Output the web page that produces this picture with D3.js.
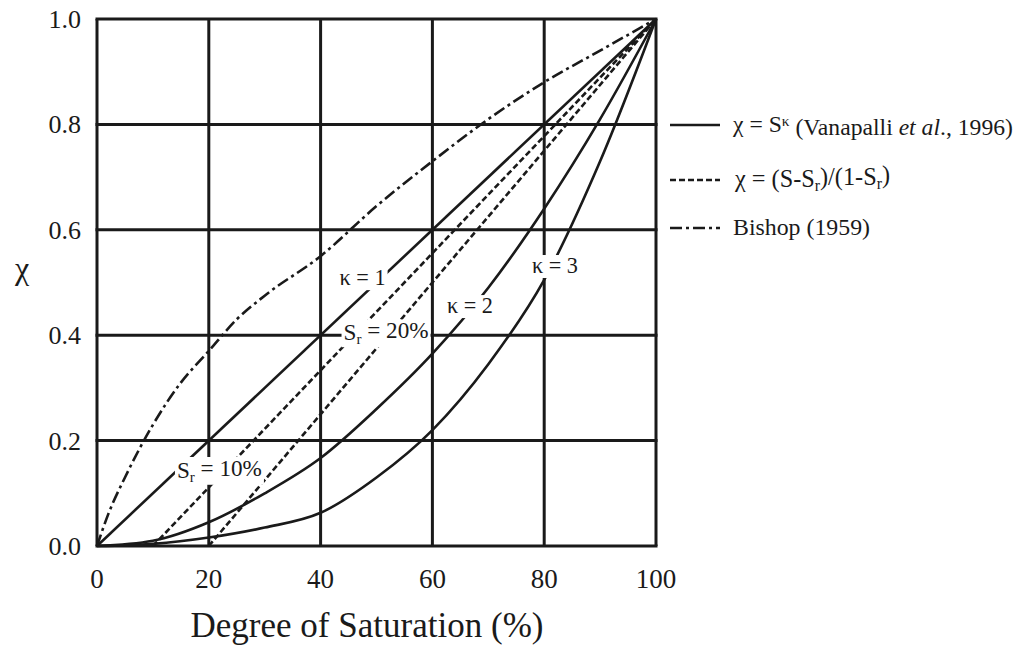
<!DOCTYPE html>
<html>
<head>
<meta charset="utf-8">
<script src="https://cdn.jsdelivr.net/npm/d3@7"></script>
<style>
  body { margin: 0; background: #fff; }
</style>
</head>
<body>
<svg id="chart" width="1021" height="646"></svg>
<script>
// values (S in %, chi)
var xTicks = [0, 20, 40, 60, 80, 100];
var yTicks = [0, 0.2, 0.4, 0.6, 0.8, 1.0];

var kappa1 = [[0, 0], [100, 1]];
var kappa2 = [[0, 0], [10, 0.01], [20, 0.045], [30, 0.1], [40, 0.167], [50, 0.26], [60, 0.365], [70, 0.49], [80, 0.64], [90, 0.81], [100, 1]];
var kappa3 = [[0, 0], [10, 0.004], [20, 0.016], [30, 0.035], [40, 0.063], [50, 0.13], [60, 0.22], [70, 0.345], [80, 0.505], [90, 0.73], [100, 1]];
var sr10 = [[10, 0], [100, 1]];
var sr20 = [[20, 0], [100, 1]];
var bishop = [[0, 0], [2, 0.06], [5, 0.13], [10, 0.23], [15, 0.31], [20, 0.37], [25, 0.43], [30, 0.475], [40, 0.55], [50, 0.645], [60, 0.73], [70, 0.81], [80, 0.88], [90, 0.94], [100, 1]];

var legendItems = ["kappa", "sr", "bishop"];

var FONT = "'Liberation Serif'";
var INK = "#1a1a1a";

var svg = d3.select("#chart");
var x = d3.scaleLinear().domain([0, 100]).range([97, 656]);
var y = d3.scaleLinear().domain([0, 1]).range([546, 19]);

var line = d3.line()
    .x(d => x(d[0]))
    .y(d => y(d[1]))
    .curve(d3.curveMonotoneX);

function txt(parent) {
    return parent.append("text").style("font-family", FONT).style("fill", INK);
}

// scale a text's font so its width matches what the picture shows
function fit(sel, w) {
    var fs = parseFloat(sel.style("font-size"));
    var cur = sel.node().getComputedTextLength();
    if (cur > 0) sel.style("font-size", (fs * w / cur).toFixed(2) + "px");
    return sel;
}

// grid
svg.append("g").selectAll("line")
    .data(xTicks).enter().append("line")
    .attr("x1", d => x(d)).attr("x2", d => x(d))
    .attr("y1", y(0)).attr("y2", y(1))
    .style("stroke", INK).style("stroke-width", 3);
svg.append("g").selectAll("line")
    .data(yTicks).enter().append("line")
    .attr("x1", x(0) - 1.5).attr("x2", x(100) + 1.5)
    .attr("y1", d => y(d)).attr("y2", d => y(d))
    .style("stroke", INK).style("stroke-width", 3);

// curves
var series = [
    {data: kappa1, dash: null},
    {data: kappa2, dash: null},
    {data: kappa3, dash: null},
    {data: sr10, dash: "6,3"},
    {data: sr20, dash: "6,3"},
    {data: bishop, dash: "12,4,3,4"}
];
svg.append("g").selectAll("path")
    .data(series).enter().append("path")
    .attr("d", d => line(d.data))
    .style("fill", "none")
    .style("stroke", INK)
    .style("stroke-width", 2.6)
    .style("stroke-dasharray", d => d.dash);

// in-plot labels with white backing
var labels = [
    {t: "κ = 1", S: 43.4, c: 0.495, w: 46},
    {t: "κ = 2", S: 62.6, c: 0.442, w: 46},
    {t: "κ = 3", S: 77.8, c: 0.518, w: 46},
    {t: "S", sub: "r", rest: " = 20%", S: 44.1, c: 0.39, w: 85},
    {t: "S", sub: "r", rest: " = 10%", S: 14.3, c: 0.129, w: 85}
];
labels.forEach(function(l) {
    var g = svg.append("g");
    var t = txt(g)
        .attr("x", x(l.S)).attr("y", y(l.c))
        .style("font-size", "22px");
    t.append("tspan").text(l.t);
    if (l.sub) {
        t.append("tspan").text(l.sub).attr("dy", "0.25em").style("font-size", "0.65em");
        t.append("tspan").text(l.rest).attr("dy", "-0.25em");
    }
    fit(t, l.w);
    var bb = t.node().getBBox();
    g.insert("rect", "text")
        .attr("x", bb.x - 2).attr("y", bb.y + 2)
        .attr("width", bb.width + 4).attr("height", bb.height - 2)
        .style("fill", "#fff");
});

// tick labels
var gy = svg.append("g");
yTicks.forEach(function(d) {
    txt(gy).attr("x", 81).attr("y", y(d) + 9)
        .attr("text-anchor", "end")
        .style("font-size", "26px")
        .text(d.toFixed(1));
});
var gx = svg.append("g");
xTicks.forEach(function(d) {
    txt(gx).attr("x", x(d)).attr("y", 588)
        .attr("text-anchor", "middle")
        .style("font-size", "27px")
        .text(d);
});

fit(txt(svg).attr("x", 367).attr("y", 637)
    .attr("text-anchor", "middle").style("font-size", "30px")
    .text("Degree of Saturation (%)"), 353);
txt(svg).attr("x", 22).attr("y", 279)
    .attr("text-anchor", "middle").style("font-size", "32px")
    .text("χ");

// legend
var leg = svg.append("g");
var legDash = {kappa: null, sr: "6,3", bishop: "12,4,3,4"};
var legY = {kappa: 125, sr: 180, bishop: 228};
legendItems.forEach(function(k) {
    leg.append("line")
        .attr("x1", 670).attr("x2", 720)
        .attr("y1", legY[k]).attr("y2", legY[k])
        .style("stroke", INK).style("stroke-width", 2.6)
        .style("stroke-dasharray", legDash[k]);
});
var t1 = txt(leg).attr("x", 733).attr("y", legY.kappa + 7).style("font-size", "21px");
t1.append("tspan").text("χ = S");
t1.append("tspan").text("κ").attr("dy", "-0.4em").style("font-size", "0.65em");
t1.append("tspan").text(" (Vanapalli ").attr("dy", "0.4em");
t1.append("tspan").text("et al").style("font-style", "italic");
t1.append("tspan").text("., 1996)");
fit(t1, 280);

var t2 = txt(leg).attr("x", 735).attr("y", legY.sr + 7).style("font-size", "21px");
t2.append("tspan").text("χ = (S-S");
t2.append("tspan").text("r").attr("dy", "0.25em").style("font-size", "0.65em");
t2.append("tspan").text(")/(1-S").attr("dy", "-0.25em");
t2.append("tspan").text("r").attr("dy", "0.25em").style("font-size", "0.65em");
t2.append("tspan").text(")").attr("dy", "-0.25em");
fit(t2, 155);

fit(txt(leg).attr("x", 733).attr("y", legY.bishop + 7).style("font-size", "21px")
    .text("Bishop (1959)"), 137);
</script>
</body>
</html>
